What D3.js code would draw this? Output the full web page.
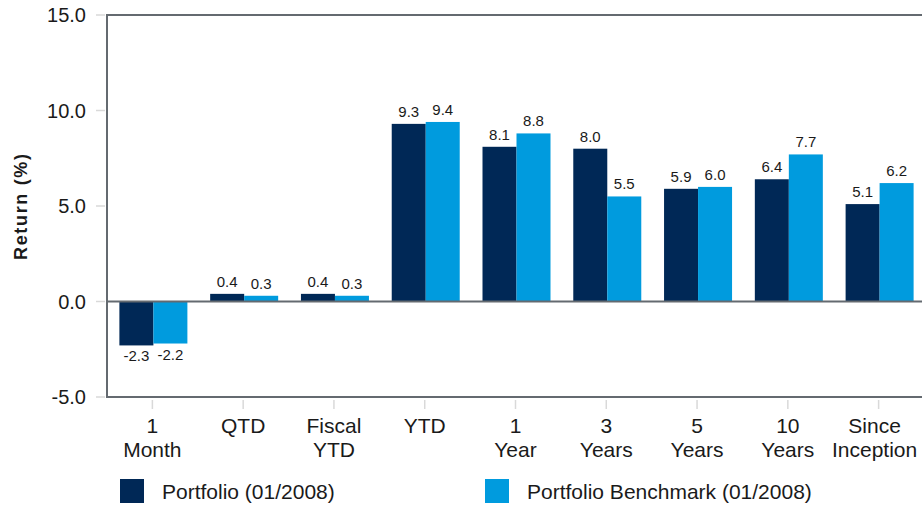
<!DOCTYPE html>
<html>
<head>
<meta charset="utf-8">
<script src="https://cdn.jsdelivr.net/npm/d3@7"></script>
<style>
  body { margin: 0; background: #fff; }
  svg { display: block; font-family: "Liberation Sans", Arial, sans-serif; }
</style>
</head>
<body>
<svg id="chart" width="922" height="506"></svg>
<script>
const categories = [['1', 'Month'], ['QTD'], ['Fiscal', 'YTD'], ['YTD'], ['1', 'Year'], ['3', 'Years'], ['5', 'Years'], ['10', 'Years'], ['Since', 'Inception']];
const portfolio = [-2.3, 0.4, 0.4, 9.3, 8.1, 8.0, 5.9, 6.4, 5.1];
const benchmark = [-2.2, 0.3, 0.3, 9.4, 8.8, 5.5, 6.0, 7.7, 6.2];
const seriesNames = ['Portfolio (01/2008)', 'Portfolio Benchmark (01/2008)'];
const yTicks = [-5, 0, 5, 10, 15];

const colors = ['#002856', '#009bde'];
const axisColor = '#646a70';
const fmt = v => d3.format('.1f')(v).replace('\u2212', '-');

const svg = d3.select('#chart');
const plotL = 107, plotR = 924, plotT = 15, plotB = 397;

const x = d3.scaleBand()
  .domain(categories.map((d, i) => i))
  .range([plotL, plotR])
  .paddingInner(0);

const x1 = d3.scaleBand()
  .domain([0, 1])
  .range([0, 68]);

const y = d3.scaleLinear()
  .domain([-5, 15])
  .range([plotB, plotT]);

// y ticks (short gray marks) + labels
const yAxis = svg.append('g');
yAxis.selectAll('line')
  .data(yTicks)
  .enter().append('line')
    .attr('x1', plotL - 11).attr('x2', plotL - 2)
    .attr('y1', d => y(d)).attr('y2', d => y(d))
    .attr('stroke', '#d9d9d9').attr('stroke-width', 1.5);
yAxis.selectAll('text')
  .data(yTicks)
  .enter().append('text')
    .attr('x', 86)
    .attr('y', d => y(d))
    .attr('dy', '0.35em')
    .attr('text-anchor', 'end')
    .attr('font-size', 20)
    .attr('fill', '#1a1a1a')
    .text(fmt);

svg.append('text')
  .attr('transform', `translate(27,${(plotT + plotB) / 2 + 1}) rotate(-90)`)
  .attr('text-anchor', 'middle')
  .attr('font-size', 18)
  .attr('font-weight', 'bold')
  .attr('fill', '#1a1a1a')
  .attr('textLength', 106)
  .attr('lengthAdjust', 'spacing')
  .text('Return (%)');

// x ticks
const xAxis = svg.append('g');
xAxis.selectAll('line')
  .data(categories.map((d, i) => i))
  .enter().append('line')
    .attr('x1', d => x(d) + x.bandwidth() / 2)
    .attr('x2', d => x(d) + x.bandwidth() / 2)
    .attr('y1', plotB + 3).attr('y2', plotB + 12)
    .attr('stroke', '#d9d9d9').attr('stroke-width', 1.5);

const xl = xAxis.selectAll('text')
  .data(categories)
  .enter().append('text')
    .attr('x', (d, i) => x(i) + x.bandwidth() / 2)
    .attr('y', 433)
    .attr('text-anchor', 'middle')
    .attr('font-size', 21)
    .attr('fill', '#1a1a1a');
xl.each(function (d, i) {
  const t = d3.select(this);
  // last label is nudged in so it fits the page
  const cx = x(i) + x.bandwidth() / 2 - (i === categories.length - 1 ? 4 : 0);
  d.forEach((line, k) => {
    t.append('tspan')
      .attr('x', cx)
      .attr('dy', k === 0 ? 0 : 24)
      .text(line);
  });
});

// bars
const groups = svg.append('g').selectAll('g')
  .data(categories.map((d, i) => i))
  .enter().append('g')
    .attr('transform', d => `translate(${x(d) + x.bandwidth() / 2 - 33},0)`);

const barData = i => [portfolio[i], benchmark[i]].map((v, s) => ({ v, s }));

groups.selectAll('rect')
  .data(barData)
  .enter().append('rect')
    .attr('x', d => x1(d.s))
    .attr('width', x1.bandwidth())
    .attr('y', d => y(Math.max(0, d.v)))
    .attr('height', d => Math.abs(y(d.v) - y(0)))
    .attr('fill', d => colors[d.s]);

groups.selectAll('text')
  .data(barData)
  .enter().append('text')
    .attr('x', d => x1(d.s) + x1.bandwidth() / 2)
    .attr('y', d => d.v >= 0 ? y(d.v) - 7 : y(d.v) + 16)
    .attr('text-anchor', 'middle')
    .attr('font-size', 15)
    .attr('fill', '#1a1a1a')
    .text(d => fmt(d.v));

// frame + zero line
const frame = svg.append('g').attr('stroke', axisColor).attr('stroke-width', 2).attr('fill', 'none');
frame.append('path').attr('d', `M${plotR},${plotT}H${plotL}V${plotB}H${plotR}`);
frame.append('line')
  .attr('x1', plotL).attr('x2', plotR)
  .attr('y1', y(0)).attr('y2', y(0));

// legend
const legendX = [120, 485];
const legend = svg.append('g').selectAll('g')
  .data(seriesNames)
  .enter().append('g')
    .attr('transform', (d, i) => `translate(${legendX[i]},479)`);
legend.append('rect')
  .attr('width', 24).attr('height', 24)
  .attr('fill', (d, i) => colors[i]);
legend.append('text')
  .attr('x', 42).attr('y', 20)
  .attr('font-size', 21)
  .attr('fill', '#1a1a1a')
  .text(d => d);
</script>
</body>
</html>
